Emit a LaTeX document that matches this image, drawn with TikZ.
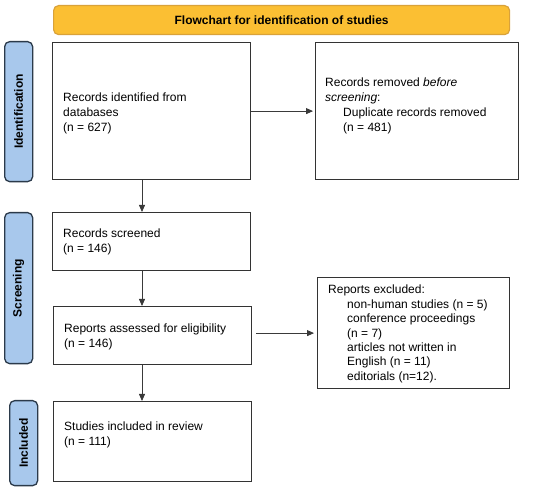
\documentclass[tikz,border=0pt]{standalone}
\usepackage{fontspec}
\setmainfont{Liberation Sans}
\usetikzlibrary{arrows.meta}
\definecolor{titlefill}{HTML}{FBBF33}
\definecolor{titleedge}{HTML}{D9A23A}
\definecolor{barfill}{HTML}{A8C8EC}
\definecolor{baredge}{HTML}{2B3A4A}
\definecolor{boxedge}{HTML}{333333}
\definecolor{arrowcol}{HTML}{3A3A3A}
\begin{document}
\begin{tikzpicture}[x=1pt,y=-1pt,
  box/.style={draw=boxedge,line width=1.2pt,fill=white,inner sep=0pt,anchor=north west},
  bar/.style={draw=baredge,line width=1.3pt,fill=barfill,rounded corners=5pt,inner sep=0pt,anchor=north west},
  barlabel/.style={rotate=90,font=\fontsize{12}{14}\selectfont\bfseries,inner sep=0pt},
  txt/.style={anchor=base west,inner sep=0pt,align=left,font=\fontsize{12}{15}\selectfont},
  txtx/.style={anchor=base west,inner sep=0pt,align=left,font=\fontsize{12}{14.4}\selectfont},
  arr/.style={draw=arrowcol,line width=0.8pt,-{Triangle[length=7pt,width=6pt]}}]
\useasboundingbox (0,0) rectangle (550,489);
% title
\node[draw=titleedge,line width=1.2pt,fill=titlefill,rounded corners=5pt,minimum width=456pt,minimum height=29pt,anchor=north west,inner sep=0pt,font=\fontsize{12}{14}\selectfont\bfseries] (title) at (53,5) {Flowchart for identification of studies};
% side bars
\node[bar,minimum width=28pt,minimum height=140pt] (idbar) at (4,41) {};
\node[barlabel] (idlab) at (idbar.center) {Identification};
\node[bar,minimum width=28pt,minimum height=151pt] (scbar) at (4,212) {};
\node[barlabel] (sclab) at (scbar.center) {Screening};
\node[bar,minimum width=28pt,minimum height=85pt] (inbar) at (9,400) {};
\node[barlabel] (inlab) at (inbar.center) {Included};
% boxes (text nodes anchored at the baseline of their last line)
\node[box,minimum width=198pt,minimum height=137pt] (b1) at (52,42) {};
\node[txt] (t1) at (63,131.5) {Records identified from\\databases\\(n = 627)};
\node[box,minimum width=203pt,minimum height=137pt] (b2) at (315,42) {};
\node[txt] (t2) at (325,132) {Records removed \textit{before}\\\textit{screening}:\\\hspace*{18pt}Duplicate records removed\\\hspace*{18pt}(n = 481)};
\node[box,minimum width=198pt,minimum height=58pt] (b3) at (52,212) {};
\node[txt] (t3) at (63,252.5) {Records screened\\(n = 146)};
\node[box,minimum width=198pt,minimum height=58pt] (b4) at (53,306) {};
\node[txt] (t4) at (64,347.5) {Reports assessed for eligibility\\(n = 146)};
\node[box,minimum width=192pt,minimum height=111pt] (b5) at (317,277) {};
\node[txtx] (t5) at (328,380.4) {Reports excluded:\\\hspace*{19pt}non-human studies (n = 5)\\\hspace*{19pt}conference proceedings\\\hspace*{19pt}(n = 7)\\\hspace*{19pt}articles not written in\\\hspace*{19pt}English (n = 11)\\\hspace*{19pt}editorials (n=12).};
\node[box,minimum width=198pt,minimum height=80pt] (b6) at (53,401) {};
\node[txt] (t6) at (64,446) {Studies included in review\\(n = 111)};
% arrows
\coordinate (xa) at (142,0);
\draw[arr] (b1.east) -- ([xshift=-2pt]b2.west);
\draw[arr] (b1.south -| xa) -- (b3.north -| xa);
\draw[arr] (b3.south -| xa) -- (b4.north -| xa);
\draw[arr] ([xshift=4pt]b4.east |- b5.west) -- ([xshift=-3pt]b5.west);
\draw[arr] (b4.south -| xa) -- (b6.north -| xa);
\end{tikzpicture}
\end{document}
